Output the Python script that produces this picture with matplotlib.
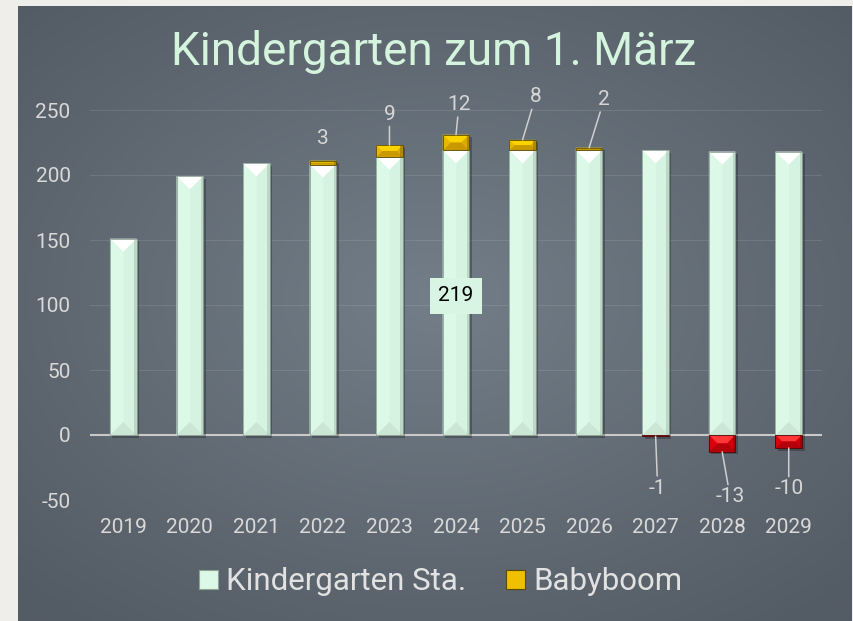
import numpy as np
import matplotlib.pyplot as plt
from matplotlib.patches import Polygon, Rectangle, Patch

plt.rcParams['font.family'] = ['Roboto', 'DejaVu Sans']
plt.rcParams['axes.unicode_minus'] = False

# data
years = ['2019', '2020', '2021', '2022', '2023', '2024', '2025', '2026', '2027', '2028', '2029']
kinder = [151, 199, 209, 208, 214, 219, 219, 219, 219, 218, 218]
babyboom = [0, 0, 0, 3, 9, 12, 8, 2, -1, -13, -10]
tooltip_year = '2024'
tooltip_value = 219

# label offsets in pixels (dx, dy) and whether a connector is drawn
label_offsets = {3: (0, 22, False), 4: (0, 31, True), 5: (3, 30, True), 6: (13, 43, True),
                 7: (15, 48, True), 8: (2, -52, True), 9: (8, -45, True), 10: (0, -41, True)}

W, H, DPI = 854, 621, 100
fig = plt.figure(figsize=(W / DPI, H / DPI), dpi=DPI, facecolor='#efeeea')

# gradient panel
bg = fig.add_axes([18 / W, 0, (852 - 18) / W, (621 - 6) / H])
gx, gy = np.meshgrid(np.linspace(-1, 1, 400), np.linspace(-1, 1, 300))
r = np.clip(np.sqrt((gx * 0.95) ** 2 + (gy * 1.0 + 0.05) ** 2) / 1.35, 0, 1)
c0 = np.array([0x73, 0x7e, 0x88]) / 255
c1 = np.array([0x53, 0x5b, 0x64]) / 255
img = c0[None, None, :] * (1 - r[..., None]) + c1[None, None, :] * r[..., None]
bg.imshow(img, aspect='auto', extent=[0, 1, 0, 1])
bg.axis('off')

ax = fig.add_axes([90 / W, 1 - 500 / H, (822 - 90) / W, (500 - 110) / H])
ax.set_facecolor('none')
ax.set_xlim(-0.5, len(years) - 0.5)
ax.set_ylim(-50, 250)
ax.set_yticks([-50, 0, 50, 100, 150, 200, 250])
ax.set_xticks(range(len(years)))
ax.set_xticklabels(years)
for s in ax.spines.values():
    s.set_visible(False)
ax.tick_params(length=0, colors='#d9d9d9', labelsize=15)
ax.tick_params(axis='y', pad=14)
ax.tick_params(axis='x', pad=13)
ax.grid(axis='y', color='white', alpha=0.1, lw=0.8)
ax.set_axisbelow(True)
ax.axhline(0, color='#c9c9c9', lw=1.5, zorder=1.5)

pxx = (822 - 90) / (len(years))
pxy = (500 - 110) / 300.0

def bevel_bar(x, y0, y1, width, face, top, bottom, left, right, edge):
    xa, xb = x - width / 2, x + width / 2
    lo, hi = min(y0, y1), max(y0, y1)
    if hi - lo <= 0:
        return
    wpx = width * pxx
    hpx = (hi - lo) * pxy
    b = min(wpx / 2, hpx / 2, 13)
    bx, by = b / pxx, b / pxy
    # shadow
    ax.add_patch(Rectangle((xa + 2.5 / pxx, lo - 2.5 / pxy), width, hi - lo,
                           facecolor='black', alpha=0.25, lw=0, zorder=2))
    ax.add_patch(Rectangle((xa, lo), width, hi - lo, facecolor=face, lw=0, zorder=3))
    ax.add_patch(Polygon([(xa, hi), (xb, hi), (xb - bx, hi - by), (xa + bx, hi - by)],
                         facecolor=top, lw=0, zorder=3))
    ax.add_patch(Polygon([(xa, lo), (xb, lo), (xb - bx, lo + by), (xa + bx, lo + by)],
                         facecolor=bottom, lw=0, zorder=3))
    ax.add_patch(Polygon([(xa, lo), (xa, hi), (xa + bx, hi - by), (xa + bx, lo + by)],
                         facecolor=left, lw=0, zorder=3))
    ax.add_patch(Polygon([(xb, lo), (xb, hi), (xb - bx, hi - by), (xb - bx, lo + by)],
                         facecolor=right, lw=0, zorder=3))
    # darker right edge strip
    ax.add_patch(Rectangle((xb - 2.5 / pxx, lo), 2.5 / pxx, hi - lo, facecolor=edge,
                           alpha=0.35, lw=0, zorder=3.2))
    ax.add_patch(Rectangle((xa, lo), width, hi - lo, facecolor='none', edgecolor=edge,
                           lw=0.6, zorder=3.5))

bw = 0.4
for i, v in enumerate(kinder):
    bevel_bar(i, 0, v, bw, '#dcf8e7', '#ffffff', '#cbe6d5', '#dcf8e7', '#d6f2e1', '#8ea596')

for i, v in enumerate(babyboom):
    if v > 0:
        bevel_bar(i, kinder[i], kinder[i] + v, bw, '#f0bf00', '#fbd400', '#c99a00',
                  '#e8b800', '#dcaa00', '#5e4a00')
    elif v < 0:
        bevel_bar(i, 0, v, bw, '#e5000e', '#ff3636', '#b3000a', '#dc000d', '#cc000c', '#5a0000')

for i, v in enumerate(babyboom):
    if i not in label_offsets:
        continue
    dx, dy, conn = label_offsets[i]
    yend = kinder[i] + v if v > 0 else v
    ax.annotate(str(v), xy=(i, yend), xytext=(dx, dy), textcoords='offset pixels',
                ha='center', va='center', fontsize=15, color='#d6d6d6', zorder=6,
                arrowprops=dict(arrowstyle='-', color='#cfcfcf', lw=1.1, shrinkA=0, shrinkB=0)
                if conn else None)

# tooltip
ti = years.index(tooltip_year)
ax.text(ti, 107, str(tooltip_value), ha='center', va='center', fontsize=15, color='black',
        zorder=7, bbox=dict(boxstyle='square,pad=0.4', facecolor='#d8f5e3', edgecolor='none'))

fig.text(0.508, 1 - 52 / H, 'Kindergarten zum 1. März', ha='center', va='center',
         fontsize=33, color='#d4f4dd')

handles = [Patch(facecolor='#dcf8e7', edgecolor='#8ea596', lw=0.8, label='Kindergarten Sta.'),
           Patch(facecolor='#f0bf00', edgecolor='#5e4a00', lw=0.8, label='Babyboom')]
fig.legend(handles=handles, loc='center', bbox_to_anchor=(0.516, 1 - 582 / H), ncol=2,
           frameon=False, fontsize=22.5, labelcolor='#e2e2e2', handlelength=0.6,
           handleheight=0.6, handletextpad=0.25, columnspacing=1.3)

fig.savefig('out.png', dpi=DPI, facecolor=fig.get_facecolor())
